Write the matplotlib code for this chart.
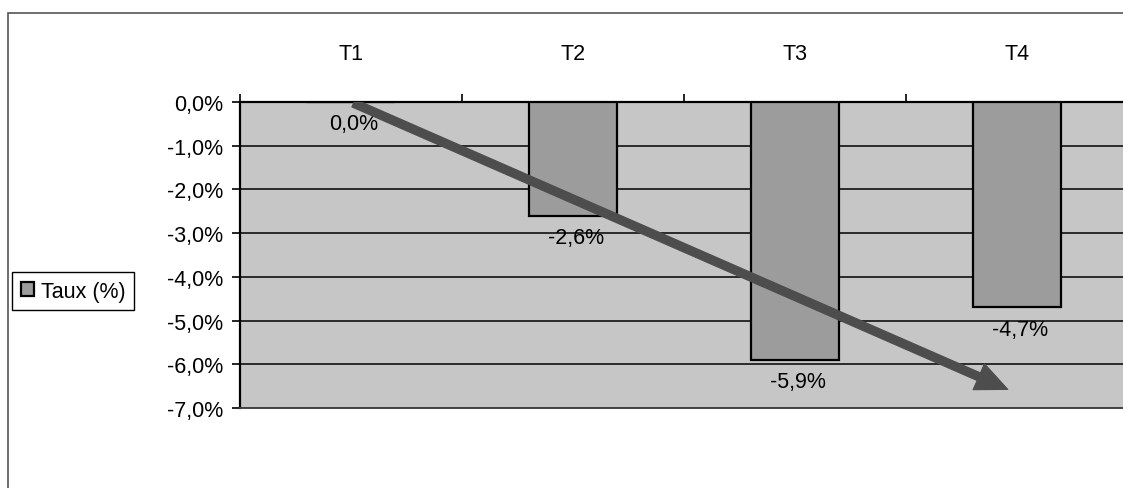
import matplotlib
matplotlib.use("Agg")
import matplotlib.pyplot as plt
from matplotlib.patches import FancyArrowPatch, Rectangle
from matplotlib.ticker import FixedLocator, FuncFormatter

plt.rcParams['font.family'] = ['Liberation Sans', 'DejaVu Sans']
FS = 15.5

# Quarterly rate data
quarters = ["T1", "T2", "T3", "T4"]
taux = [0.0, -2.6, -5.9, -4.7]
series_name = "Taux (%)"

# Trend arrow drawn over the bars (start/end in data units)
trend_start = (0.0, 0.0)
trend_end = (2.97, -6.6)

W, H = 1123, 489
fig = plt.figure(figsize=(W / 100, H / 100), dpi=100)

# Outer chart frame (extends past the right and bottom edges)
fig.patches.append(Rectangle((8 / W, -0.1), 1.2, 1 - 14 / H + 0.1,
                             transform=fig.transFigure, fill=False,
                             edgecolor="#555555", linewidth=1.2))

ax = fig.add_axes([240 / W, 1 - 409 / H, 888 / W, 306 / H])
ax.set_facecolor("#c6c6c6")

x = list(range(len(quarters)))
bars = ax.bar(x, taux, width=0.4, color="#9c9c9c", edgecolor="black",
              linewidth=1.6, zorder=3, label=series_name)

ax.set_xlim(-0.5, len(quarters) - 0.5)
ax.set_ylim(-7, 0)

# y axis: percent with comma decimals
ax.yaxis.set_major_locator(FixedLocator([0, -1, -2, -3, -4, -5, -6, -7]))
ax.yaxis.set_major_formatter(FuncFormatter(lambda v, p: f"{v:.1f}%".replace(".", ",")))
ax.tick_params(axis="y", direction="out", length=6, width=1.2, labelsize=FS,
               pad=6, colors="black")
ax.grid(axis="y", color="black", linewidth=1.1, zorder=1)

# category axis sits on top at zero
ax.xaxis.tick_top()
ax.set_xticks([i - 0.5 for i in range(len(quarters) + 1)])
ax.set_xticklabels([])
ax.set_xticks(x, minor=True)
ax.set_xticklabels(quarters, minor=True)
ax.tick_params(axis="x", which="major", direction="out", length=6, width=1.2,
               colors="black")
ax.tick_params(axis="x", which="minor", length=0, labelsize=FS, pad=27)

ax.spines["right"].set_visible(False)
ax.spines["top"].set_linewidth(1.6)
ax.spines["left"].set_linewidth(1.6)
ax.spines["bottom"].set_color("#444444")
ax.spines["bottom"].set_linewidth(1.4)

# value labels under each bar end
for xi, v in zip(x, taux):
    ax.annotate(f"{v:.1f}%".replace(".", ","), xy=(xi, v), xytext=(2, -8),
                textcoords="offset points", ha="center", va="top",
                fontsize=FS, zorder=5)

arrow = FancyArrowPatch(trend_start, trend_end,
                        arrowstyle="simple,head_length=1.9,head_width=1.7,tail_width=0.5",
                        mutation_scale=12, color="#4d4d4d", edgecolor="#2a2a2a",
                        linewidth=0.8, zorder=6)
ax.add_patch(arrow)

fig.legend(handles=[bars], labels=[series_name], loc="upper left",
           bbox_to_anchor=(12 / W, 1 - 273 / H), fontsize=FS,
           frameon=True, fancybox=False, edgecolor="black", framealpha=1,
           handlelength=0.6, handleheight=0.6, handletextpad=0.35,
           borderpad=0.4, borderaxespad=0)

fig.savefig("out.png", dpi=100)
